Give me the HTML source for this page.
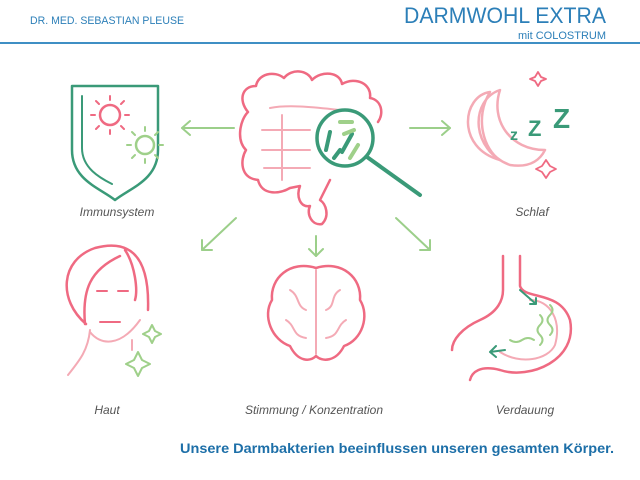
<!DOCTYPE html>
<html><head><meta charset="utf-8"><style>
html,body{margin:0;padding:0;background:#fff;width:640px;height:480px;overflow:hidden}
svg{display:block}
text{font-family:"Liberation Sans",sans-serif}
</style></head><body>
<svg width="640" height="480" viewBox="0 0 640 480" xmlns="http://www.w3.org/2000/svg">
<text x="30" y="24" font-size="11" fill="#2c7fb8" textLength="154" lengthAdjust="spacingAndGlyphs">DR. MED. SEBASTIAN PLEUSE</text>
<text x="404" y="23" font-size="22" fill="#2c7fb8" textLength="202" lengthAdjust="spacingAndGlyphs">DARMWOHL EXTRA</text>
<text x="606" y="39" font-size="11" fill="#2c7fb8" text-anchor="end">mit COLOSTRUM</text>
<line x1="0" y1="43" x2="640" y2="43" stroke="#3f8fc4" stroke-width="2"/>

<g fill="none" stroke-linecap="round" stroke-linejoin="round">
<g stroke="#9ccf8a" stroke-width="2">
<line x1="234" y1="128" x2="182" y2="128"/><polyline points="190,121 182,128 190,135"/>
<line x1="410" y1="128" x2="450" y2="128"/><polyline points="442,121 450,128 442,135"/>
<line x1="236" y1="218" x2="202" y2="250"/><polyline points="202,240 202,250 212,250"/>
<line x1="316" y1="236" x2="316" y2="256"/><polyline points="309,249 316,256 323,249"/>
<line x1="396" y1="218" x2="430" y2="250"/><polyline points="420,250 430,250 430,240"/>
</g>
<!-- intestine -->
<path d="M258 180 C240 178 240 160 246 150 C236 140 240 120 248 112 C238 100 242 86 256 86 C258 74 274 70 284 78 C292 68 308 70 312 80 C322 70 340 72 342 84 C356 76 372 84 370 98 C382 100 384 114 378 122" stroke="#ef6a82" stroke-width="2.5"/>
<path d="M258 180 C262 196 280 194 290 188 L300 186 C296 196 300 208 310 206 C306 214 312 226 322 224 C330 216 326 204 320 200 L330 180" stroke="#ef6a82" stroke-width="2.5"/>
<path d="M270 108 C290 104 320 108 340 110 M262 130 L310 130 M262 150 L310 150 M264 168 L310 168 M282 115 L282 180" stroke="#f4aab5" stroke-width="2"/>
<circle cx="345" cy="138" r="28" stroke="#3a9a78" stroke-width="3.5" fill="#fff"/>
<line x1="367" y1="157" x2="420" y2="195" stroke="#3a9a78" stroke-width="4"/>
<path d="M330 132 L326 150 M352 134 L342 152 M340 150 L334 158" stroke="#3a9a78" stroke-width="4"/>
<path d="M340 122 L352 122 M358 145 L350 158 M344 134 L354 130" stroke="#9fd08a" stroke-width="4"/>
<!-- shield -->
<path d="M72 86 L158 86 L158 150 C158 180 130 188 115 200 C100 188 72 180 72 150 Z" stroke="#3a9a78" stroke-width="2.5"/>
<path d="M82 96 L82 148 C82 168 100 178 112 184" stroke="#3a9a78" stroke-width="2"/>
<circle cx="110" cy="115" r="10" stroke="#ef6a82" stroke-width="2.5"/>
<path d="M110 100 V96 M110 130 V134 M95 115 H91 M125 115 H129 M99 104 L96 101 M121 104 L124 101 M99 126 L96 129 M121 126 L124 129" stroke="#ef6a82" stroke-width="2"/>
<circle cx="145" cy="145" r="9" stroke="#9fd08a" stroke-width="2.5"/>
<path d="M145 131 V127 M145 159 V163 M131 145 H127 M159 145 H163 M135 135 L132 132 M155 135 L158 132 M135 155 L132 158 M155 155 L158 158" stroke="#9fd08a" stroke-width="2"/>
<!-- moon & zzz -->
<path d="M490 92 C462 96 456 148 500 160 C484 150 474 118 490 92 Z" stroke="#f4aab5" stroke-width="2.5"/>
<path d="M500 90 C470 100 470 150 510 165 C530 168 540 160 545 150 C510 150 490 120 500 90 Z" stroke="#f4aab5" stroke-width="2.5"/>
<text x="510" y="140" font-size="16" fill="#3a9a78" font-weight="bold">z</text>
<text x="528" y="136" font-size="22" fill="#3a9a78" font-weight="bold">Z</text>
<text x="553" y="128" font-size="28" fill="#3a9a78" font-weight="bold">Z</text>
<path d="M538 72 l3 5 5 2 -5 2 -3 5 -3 -5 -5 -2 5 -2z M546 160 l4 6 6 3 -6 3 -4 6 -4 -6 -6 -3 6 -3z" stroke="#ef6a82" stroke-width="1.8"/>
<!-- face -->
<path d="M86 324 C58 300 60 260 95 248 C125 240 150 250 148 310 M125 250 C135 265 138 290 135 300 M120 256 C90 270 82 290 85 324" stroke="#ef6a82" stroke-width="2.5"/>
<path d="M90 332 C100 345 120 348 140 320 M90 330 C88 350 80 360 68 375 M132 340 L132 350" stroke="#f4aab5" stroke-width="2"/>
<path d="M97 291 L107 291 M118 291 L128 291 M100 322 L120 322" stroke="#ef6a82" stroke-width="2"/>
<path d="M152 325 l3 6 6 3 -6 3 -3 6 -3 -6 -6 -3 6 -3z M138 352 l4 8 8 4 -8 4 -4 8 -4 -8 -8 -4 8 -4z" stroke="#9fd08a" stroke-width="2"/>
<!-- brain -->
<path d="M316 268 C290 260 270 278 272 300 C262 316 272 340 290 346 C298 362 310 362 316 356 C322 362 336 362 344 346 C362 340 370 316 360 300 C362 278 342 260 316 268 Z" stroke="#ef6a82" stroke-width="2.5"/>
<path d="M316 270 L316 354 M290 290 C300 296 296 306 306 310 M340 290 C330 296 336 306 326 310 M286 320 C296 326 292 336 306 338 M346 320 C336 326 340 336 326 338" stroke="#f4aab5" stroke-width="2"/>
<!-- stomach -->
<path d="M503 256 L503 290 C503 300 498 312 480 320 C462 328 452 340 452 350 M520 256 L520 286 C524 300 560 290 570 320 C578 360 530 380 500 370 C480 365 472 372 470 380" stroke="#ef6a82" stroke-width="2.5"/>
<path d="M530 300 C550 300 562 320 555 345 C548 360 520 365 500 352" stroke="#f4aab5" stroke-width="2"/>
<path d="M540 315 q5 5 0 10 q-5 5 0 10 q5 5 0 10 M550 305 q5 5 0 10 q-5 5 0 10 q5 5 0 10 M510 340 q6 4 12 0 q6 -4 12 0" stroke="#9fd08a" stroke-width="2"/>
<path d="M520 290 L536 304 M530 304 L536 304 L536 298 M505 350 L490 352 M496 346 L490 352 L496 357" stroke="#3a9a78" stroke-width="2"/>
</g>

<g font-size="12" font-style="italic" fill="#555" text-anchor="middle">
<text x="117" y="216">Immunsystem</text>
<text x="532" y="216">Schlaf</text>
<text x="107" y="414">Haut</text>
<text x="314" y="414">Stimmung / Konzentration</text>
<text x="525" y="414">Verdauung</text>
</g>
<text x="180" y="453" font-size="14" font-weight="bold" fill="#1d6fa8" textLength="434" lengthAdjust="spacingAndGlyphs">Unsere Darmbakterien beeinflussen unseren gesamten Körper.</text>
</svg>
</body></html>
